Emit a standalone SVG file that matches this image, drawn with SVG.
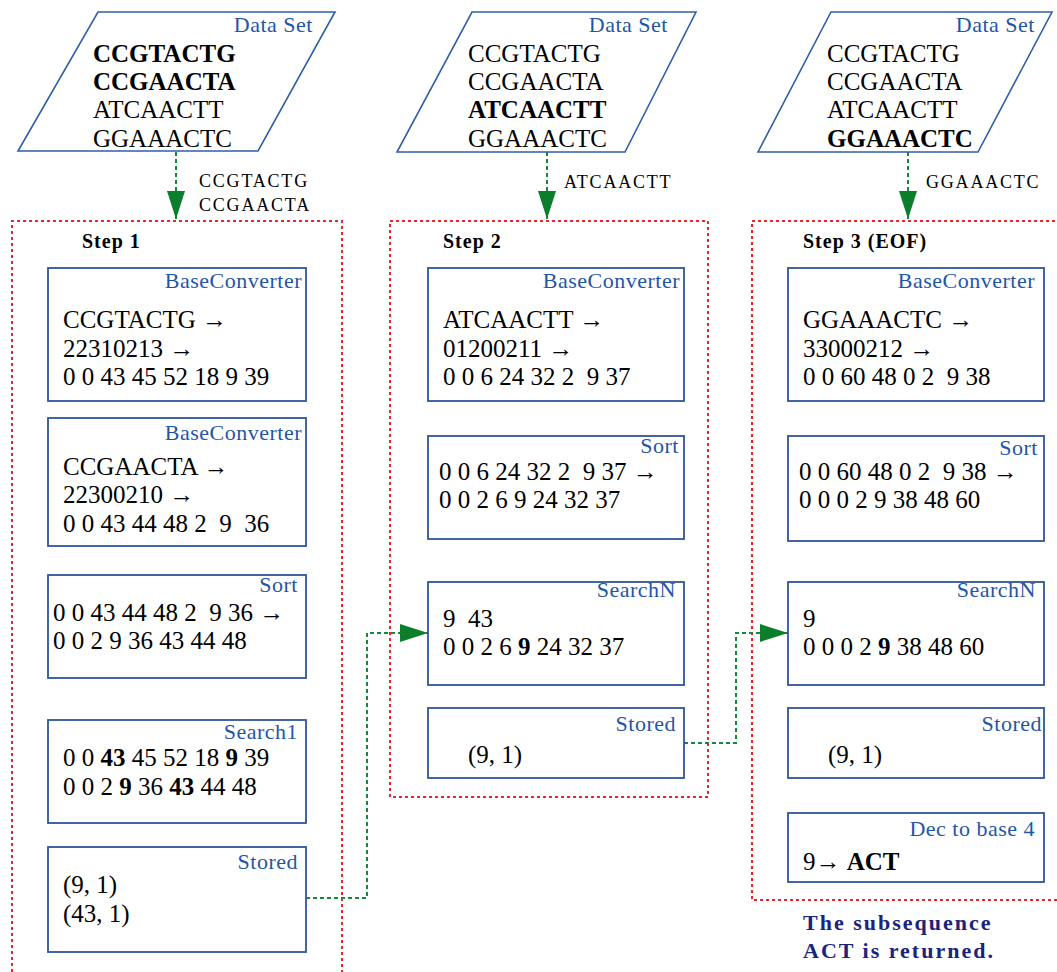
<svg xmlns="http://www.w3.org/2000/svg" width="1057" height="972" viewBox="0 0 1057 972">
<style>
.bg{fill:#ffffff}
.para{fill:#ffffff;stroke:#2f5fa8;stroke-width:1.6}
.box{fill:#ffffff;stroke:#2f5597;stroke-width:1.8}
.lbl{font-family:"Liberation Serif",serif;font-size:22px;fill:#1f56a8;text-anchor:end;letter-spacing:0.5px}
.txt{font-family:"Liberation Serif",serif;font-size:25px;fill:#000;white-space:pre}
.ds{font-family:"Liberation Serif",serif;font-size:25px;fill:#000}
.small{font-family:"Liberation Serif",serif;font-size:18px;fill:#000;letter-spacing:1.8px}
.step{font-family:"Liberation Serif",serif;font-size:20px;font-weight:bold;fill:#000;letter-spacing:1px;white-space:pre}
.b{font-weight:bold}
.red{fill:none;stroke:#e8262b;stroke-width:2;stroke-dasharray:3 3}
.grn{fill:none;stroke:#138a36;stroke-width:2;stroke-dasharray:4 3}
.note{font-family:"Liberation Serif",serif;font-size:22px;font-weight:bold;fill:#1a237e;letter-spacing:2px}
</style>
<defs>
<marker id="ah" markerUnits="userSpaceOnUse" markerWidth="30" markerHeight="20" refX="28" refY="9" orient="auto">
<path d="M0,0 L28,9 L0,18 Z" fill="#0b7d2b"/>
</marker>
</defs>
<rect class="bg" x="0" y="0" width="1057" height="972"/>

<g id="containers">
<path class="red" d="M12,972 V221 H342 V972"/>
<path class="red" d="M390,221 H708 V797 H390 Z"/>
<path class="red" d="M1057,900 H752 V221 H1057"/>
</g>

<g id="connectors">
<path class="grn" d="M176,152 V219" marker-end="url(#ah)"/>
<path class="grn" d="M547,152 V219" marker-end="url(#ah)"/>
<path class="grn" d="M908,152 V219" marker-end="url(#ah)"/>
<path class="grn" d="M306,898 H367 V633 H428" marker-end="url(#ah)"/>
<path class="grn" d="M684,743 H736 V633 H788" marker-end="url(#ah)"/>
<text class="small" x="199" y="187">CCGTACTG</text>
<text class="small" x="199" y="211">CCGAACTA</text>
<text class="small" x="564" y="188">ATCAACTT</text>
<text class="small" x="926" y="188">GGAAACTC</text>
</g>

<g id="dataset1">
<polygon class="para" points="98,12 335,12 258,151 18,151"/>
<text class="lbl" x="313" y="32">Data Set</text>
<text class="ds b" x="93" y="62">CCGTACTG</text>
<text class="ds b" x="93" y="90">CCGAACTA</text>
<text class="ds" x="93" y="118">ATCAACTT</text>
<text class="ds" x="93" y="147">GGAAACTC</text>
</g>
<g id="dataset2">
<polygon class="para" points="472,12 696,12 625,152 397,152"/>
<text class="lbl" x="668" y="32">Data Set</text>
<text class="ds" x="468" y="62">CCGTACTG</text>
<text class="ds" x="468" y="90">CCGAACTA</text>
<text class="ds b" x="468" y="118">ATCAACTT</text>
<text class="ds" x="468" y="147">GGAAACTC</text>
</g>
<g id="dataset3">
<polygon class="para" points="831,12 1052,12 978,152 758,152"/>
<text class="lbl" x="1035" y="32">Data Set</text>
<text class="ds" x="827" y="62">CCGTACTG</text>
<text class="ds" x="827" y="90">CCGAACTA</text>
<text class="ds" x="827" y="118">ATCAACTT</text>
<text class="ds b" x="827" y="147">GGAAACTC</text>
</g>

<g id="step1">
<text class="step" x="82" y="248">Step 1</text>
</g>
<g id="s1-base1">
<rect class="box" x="48" y="268" width="258" height="133"/>
<text class="lbl" x="302" y="288">BaseConverter</text>
<text class="txt" x="63" y="328">CCGTACTG →</text>
<text class="txt" x="63" y="357">22310213 →</text>
<text class="txt" x="63" y="385">0 0 43 45 52 18 9 39</text>
</g>
<g id="s1-base2">
<rect class="box" x="48" y="418" width="258" height="128"/>
<text class="lbl" x="302" y="440">BaseConverter</text>
<text class="txt" x="63" y="475">CCGAACTA →</text>
<text class="txt" x="63" y="503">22300210 →</text>
<text class="txt" x="63" y="532">0 0 43 44 48 2  9  36</text>
</g>
<g id="s1-sort">
<rect class="box" x="48" y="575" width="258" height="103"/>
<text class="lbl" x="298" y="592">Sort</text>
<text class="txt" x="53" y="621">0 0 43 44 48 2  9 36 →</text>
<text class="txt" x="53" y="649">0 0 2 9 36 43 44 48</text>
</g>
<g id="s1-search1">
<rect class="box" x="48" y="720" width="258" height="103"/>
<text class="lbl" x="298" y="739">Search1</text>
<text class="txt" x="63" y="766">0 0 <tspan class="b">43</tspan> 45 52 18 <tspan class="b">9</tspan> 39</text>
<text class="txt" x="63" y="795">0 0 2 <tspan class="b">9</tspan> 36 <tspan class="b">43</tspan> 44 48</text>
</g>
<g id="s1-stored">
<rect class="box" x="48" y="847" width="258" height="105"/>
<text class="lbl" x="298" y="869">Stored</text>
<text class="txt" x="63" y="893">(9, 1)</text>
<text class="txt" x="63" y="922">(43, 1)</text>
</g>

<g id="step2">
<text class="step" x="443" y="248">Step 2</text>
</g>
<g id="s2-base">
<rect class="box" x="428" y="268" width="256" height="133"/>
<text class="lbl" x="680" y="288">BaseConverter</text>
<text class="txt" x="443" y="328">ATCAACTT →</text>
<text class="txt" x="443" y="357">01200211 →</text>
<text class="txt" x="443" y="385">0 0 6 24 32 2  9 37</text>
</g>
<g id="s2-sort">
<rect class="box" x="428" y="436" width="256" height="103"/>
<text class="lbl" x="679" y="453">Sort</text>
<text class="txt" x="439" y="480">0 0 6 24 32 2  9 37 →</text>
<text class="txt" x="439" y="508">0 0 2 6 9 24 32 37</text>
</g>
<g id="s2-searchn">
<rect class="box" x="428" y="582" width="256" height="103"/>
<text class="lbl" x="676" y="597">SearchN</text>
<text class="txt" x="443" y="627">9  43</text>
<text class="txt" x="443" y="655">0 0 2 6 <tspan class="b">9</tspan> 24 32 37</text>
</g>
<g id="s2-stored">
<rect class="box" x="428" y="708" width="256" height="70"/>
<text class="lbl" x="676" y="731">Stored</text>
<text class="txt" x="468" y="763">(9, 1)</text>
</g>

<g id="step3">
<text class="step" x="803" y="248">Step 3 (EOF)</text>
</g>
<g id="s3-base">
<rect class="box" x="788" y="268" width="256" height="133"/>
<text class="lbl" x="1035" y="288">BaseConverter</text>
<text class="txt" x="803" y="328">GGAAACTC →</text>
<text class="txt" x="803" y="357">33000212 →</text>
<text class="txt" x="803" y="385">0 0 60 48 0 2  9 38</text>
</g>
<g id="s3-sort">
<rect class="box" x="788" y="436" width="256" height="105"/>
<text class="lbl" x="1038" y="455">Sort</text>
<text class="txt" x="799" y="480">0 0 60 48 0 2  9 38 →</text>
<text class="txt" x="799" y="508">0 0 0 2 9 38 48 60</text>
</g>
<g id="s3-searchn">
<rect class="box" x="788" y="582" width="256" height="103"/>
<text class="lbl" x="1036" y="597">SearchN</text>
<text class="txt" x="803" y="627">9</text>
<text class="txt" x="803" y="655">0 0 0 2 <tspan class="b">9</tspan> 38 48 60</text>
</g>
<g id="s3-stored">
<rect class="box" x="788" y="708" width="256" height="70"/>
<text class="lbl" x="1042" y="731">Stored</text>
<text class="txt" x="828" y="763">(9, 1)</text>
</g>
<g id="s3-dec">
<rect class="box" x="788" y="813" width="256" height="69"/>
<text class="lbl" x="1035" y="836">Dec to base 4</text>
<text class="txt" x="803" y="870">9→ <tspan class="b">ACT</tspan></text>
</g>

<g id="result">
<text class="note" x="803" y="930">The subsequence</text>
<text class="note" x="803" y="958">ACT is returned.</text>
</g>
</svg>
